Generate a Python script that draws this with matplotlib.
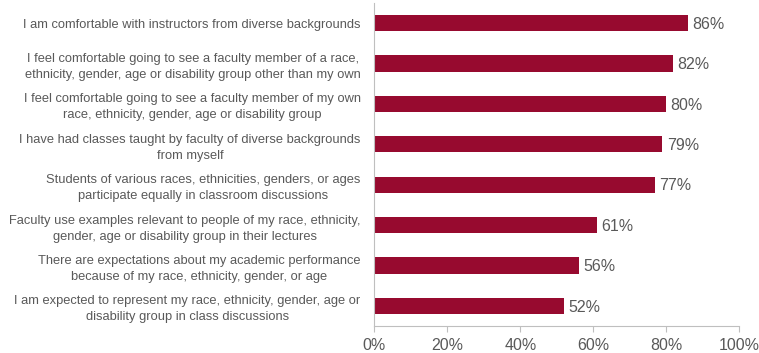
import matplotlib
matplotlib.use("Agg")
import matplotlib.pyplot as plt

# statements, top to bottom as shown
labels = [
    "I am comfortable with instructors from diverse backgrounds",
    "I feel comfortable going to see a faculty member of a race,\nethnicity, gender, age or disability group other than my own",
    "I feel comfortable going to see a faculty member of my own\nrace, ethnicity, gender, age or disability group",
    "I have had classes taught by faculty of diverse backgrounds\nfrom myself",
    "Students of various races, ethnicities, genders, or ages\nparticipate equally in classroom discussions",
    "Faculty use examples relevant to people of my race, ethnicity,\ngender, age or disability group in their lectures",
    "There are expectations about my academic performance\nbecause of my race, ethnicity, gender, or age",
    "I am expected to represent my race, ethnicity, gender, age or\ndisability group in class discussions",
]
values = [86, 82, 80, 79, 77, 61, 56, 52]
xticks = [0, 20, 40, 60, 80, 100]

plt.rcParams['font.family'] = ['Liberation Sans', 'DejaVu Sans']
gray = "#595959"
bar_color = "#970A2F"

fig = plt.figure(figsize=(7.59, 3.53), dpi=100)
ax = fig.add_axes([0.4934, 0.0765, 0.4802, 0.915])

pos = list(range(len(values)))
ax.barh(pos, values, height=0.4, color=bar_color)
for p, v in zip(pos, values):
    ax.text(v + 1.2, p + 0.03, f"{v}%", va="center", ha="left", fontsize=11.5, color=gray)

ax.set_xlim(0, 100)
ax.set_ylim(len(values) - 0.5, -0.5)
ax.set_xticks(xticks)
ax.set_xticklabels([f"{t}%" for t in xticks], fontsize=11.5, color=gray)
ax.set_yticks(pos)
ax.set_yticklabels(labels, fontsize=9.3, color=gray, multialignment="center",
                   linespacing=1.45)
ax.tick_params(axis="y", length=0, pad=10)
ax.tick_params(axis="x", length=4, color="#BFBFBF", pad=5)

for s in ["top", "right"]:
    ax.spines[s].set_visible(False)
for s in ["left", "bottom"]:
    ax.spines[s].set_color("#BFBFBF")
    ax.spines[s].set_linewidth(0.8)

fig.savefig("out.png", dpi=100)
